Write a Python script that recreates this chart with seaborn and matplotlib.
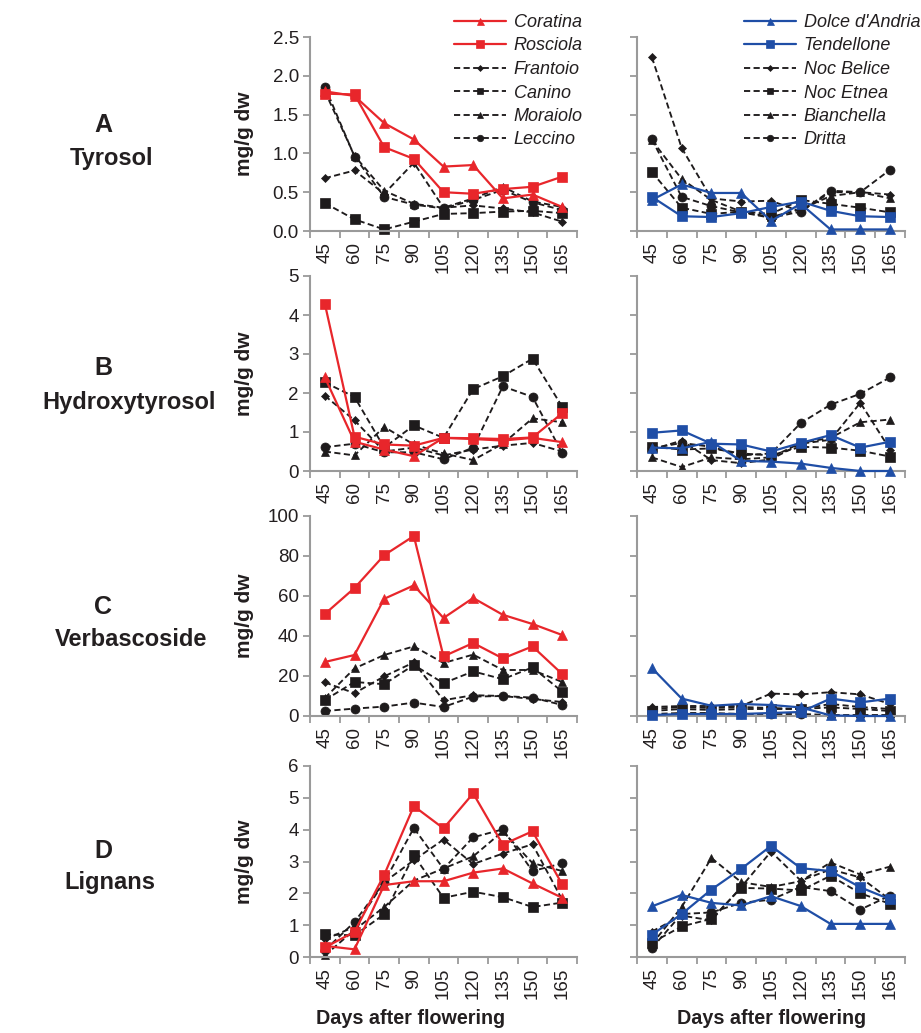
import numpy as np
import matplotlib
matplotlib.use("Agg")
import matplotlib.pyplot as plt
import seaborn as sns
from matplotlib.ticker import FixedLocator, NullFormatter, FormatStrFormatter

# ---------------- data ----------------
days = [45, 60, 75, 90, 105, 120, 135, 150, 165]
panel_letters = ["A", "B", "C", "D"]
compound_names = ["Tyrosol", "Hydroxytyrosol", "Verbascoside", "Lignans"]
y_max = [2.5, 5, 100, 6]
y_step = [0.5, 1, 20, 1]
y_fmt = ["%.1f", "%d", "%d", "%d"]

left_varieties = ["Coratina", "Rosciola", "Frantoio", "Canino", "Moraiolo", "Leccino"]
right_varieties = ["Dolce d'Andria", "Tendellone", "Noc Belice", "Noc Etnea", "Bianchella", "Dritta"]

tyrosol_left = {
    "Coratina": [1.80, 1.74, 1.39, 1.18, 0.83, 0.85, 0.42, 0.47, 0.31],
    "Rosciola": [1.77, 1.76, 1.08, 0.93, 0.50, 0.48, 0.54, 0.57, 0.70],
    "Frantoio": [0.68, 0.78, 0.48, 0.88, 0.30, 0.33, 0.29, 0.24, 0.12],
    "Canino":   [0.36, 0.15, 0.02, 0.12, 0.22, 0.23, 0.25, 0.26, 0.23],
    "Moraiolo": [1.80, 0.97, 0.52, 0.35, 0.30, 0.42, 0.57, 0.38, 0.31],
    "Leccino":  [1.86, 0.96, 0.44, 0.34, 0.29, 0.40, 0.53, 0.37, 0.27],
}
tyrosol_right = {
    "Dolce d'Andria": [0.40, 0.60, 0.49, 0.49, 0.13, 0.35, 0.02, 0.02, 0.02],
    "Tendellone":     [0.44, 0.19, 0.18, 0.23, 0.31, 0.38, 0.26, 0.19, 0.18],
    "Noc Belice":     [2.24, 1.07, 0.42, 0.38, 0.39, 0.25, 0.50, 0.50, 0.47],
    "Noc Etnea":      [0.76, 0.30, 0.22, 0.25, 0.22, 0.40, 0.35, 0.30, 0.24],
    "Bianchella":     [1.17, 0.67, 0.40, 0.25, 0.18, 0.28, 0.45, 0.50, 0.42],
    "Dritta":         [1.18, 0.44, 0.32, 0.24, 0.17, 0.25, 0.52, 0.50, 0.79],
}
hydroxytyrosol_left = {
    "Coratina": [2.40, 0.75, 0.55, 0.38, 0.85, 0.82, 0.78, 0.85, 0.74],
    "Rosciola": [4.29, 0.88, 0.68, 0.65, 0.85, 0.84, 0.82, 0.86, 1.48],
    "Frantoio": [1.93, 1.30, 0.50, 0.60, 0.40, 0.55, 0.65, 0.72, 0.50],
    "Canino":   [2.27, 1.90, 0.60, 1.17, 0.85, 2.10, 2.43, 2.88, 1.65],
    "Moraiolo": [0.50, 0.40, 1.13, 0.68, 0.45, 0.28, 0.70, 1.35, 1.25],
    "Leccino":  [0.61, 0.70, 0.48, 0.48, 0.30, 0.60, 2.17, 1.90, 0.46],
}
hydroxytyrosol_right = {
    "Dolce d'Andria": [0.60, 0.58, 0.75, 0.26, 0.24, 0.19, 0.08, 0.00, 0.00],
    "Tendellone":     [0.98, 1.04, 0.70, 0.68, 0.50, 0.72, 0.92, 0.60, 0.75],
    "Noc Belice":     [0.55, 0.78, 0.28, 0.20, 0.30, 0.70, 0.80, 1.75, 0.55],
    "Noc Etnea":      [0.62, 0.55, 0.58, 0.45, 0.40, 0.62, 0.60, 0.52, 0.37],
    "Bianchella":     [0.35, 0.10, 0.35, 0.30, 0.35, 0.72, 0.85, 1.25, 1.32],
    "Dritta":         [0.58, 0.72, 0.62, 0.40, 0.45, 1.23, 1.70, 1.98, 2.40],
}
verbascoside_left = {
    "Coratina": [27.0, 30.5, 58.6, 65.3, 49.0, 59.0, 50.6, 46.0, 40.5],
    "Rosciola": [51.0, 64.0, 80.4, 90.0, 29.8, 36.5, 28.8, 34.8, 21.0],
    "Frantoio": [16.8, 11.4, 19.8, 26.8, 7.9, 10.4, 10.0, 8.5, 7.0],
    "Canino":   [8.0, 17.0, 15.9, 25.5, 16.4, 22.3, 18.4, 24.3, 12.2],
    "Moraiolo": [9.0, 23.8, 30.5, 34.8, 26.5, 30.7, 23.0, 23.0, 17.0],
    "Leccino":  [2.5, 3.7, 4.7, 6.7, 4.5, 9.7, 10.0, 9.2, 5.5],
}
verbascoside_right = {
    "Dolce d'Andria": [24.0, 8.7, 5.1, 6.0, 5.5, 4.3, 0.3, 0.0, 0.0],
    "Tendellone":     [0.5, 1.0, 1.0, 1.0, 1.5, 2.0, 8.7, 6.8, 8.7],
    "Noc Belice":     [4.5, 5.0, 5.0, 5.0, 11.2, 10.8, 11.9, 10.8, 6.0],
    "Noc Etnea":      [2.5, 3.5, 3.0, 3.5, 3.5, 3.5, 4.3, 3.5, 2.5],
    "Bianchella":     [3.5, 4.5, 4.0, 4.5, 4.0, 3.5, 6.0, 4.5, 3.5],
    "Dritta":         [1.0, 1.5, 1.5, 1.0, 1.0, 1.0, 0.5, 0.5, 0.5],
}
lignans_left = {
    "Coratina": [0.35, 0.24, 2.26, 2.38, 2.38, 2.65, 2.78, 2.31, 1.86],
    "Rosciola": [0.30, 0.79, 2.58, 4.74, 4.04, 5.14, 3.53, 3.95, 2.28],
    "Frantoio": [0.55, 0.95, 2.35, 3.04, 3.69, 2.92, 3.25, 3.54, 1.80],
    "Canino":   [0.71, 0.68, 1.34, 3.19, 1.86, 2.05, 1.88, 1.57, 1.71],
    "Moraiolo": [0.05, 0.85, 1.57, 2.40, 2.78, 3.16, 3.95, 2.95, 2.70],
    "Leccino":  [0.21, 1.10, 2.35, 4.05, 2.77, 3.76, 4.01, 2.70, 2.94],
}
lignans_right = {
    "Dolce d'Andria": [1.59, 1.95, 1.70, 1.62, 1.91, 1.60, 1.04, 1.04, 1.04],
    "Tendellone":     [0.70, 1.35, 2.12, 2.77, 3.49, 2.79, 2.70, 2.19, 1.81],
    "Noc Belice":     [0.80, 1.30, 1.15, 2.20, 3.31, 2.40, 2.75, 2.50, 1.80],
    "Noc Etnea":      [0.45, 0.96, 1.20, 2.17, 2.15, 2.09, 2.55, 2.00, 1.67],
    "Bianchella":     [0.40, 1.57, 3.11, 2.35, 2.20, 2.38, 2.97, 2.59, 2.84],
    "Dritta":         [0.28, 1.35, 1.40, 1.70, 1.80, 2.20, 2.07, 1.49, 1.93],
}

left_data = [tyrosol_left, hydroxytyrosol_left, verbascoside_left, lignans_left]
right_data = [tyrosol_right, hydroxytyrosol_right, verbascoside_right, lignans_right]

# ---------------- styles ----------------
RED = "#e8262b"
BLUE = "#1f4ea6"
BLACK = "#1e1b1c"
TXT = "#231f20"
SPINE = "#9a9a9a"
markers6 = ["^", "s", "D", "s", "^", "o"]
msizes6 = [7, 7.2, 4.2, 6.5, 6.3, 6.5]
left_colors = [RED, RED, BLACK, BLACK, BLACK, BLACK]
right_colors = [BLUE, BLUE, BLACK, BLACK, BLACK, BLACK]
DASH = (0, (3.3, 1.8))

sns.set_style("ticks")
plt.rcParams["font.family"] = ["Liberation Sans", "DejaVu Sans"]

W, H = 921, 1033
fig = plt.figure(figsize=(W / 100, H / 100), dpi=100)

rows_px = [(37, 231), (276, 471), (516, 716), (766, 957)]
cols_px = [(310, 577), (637, 905)]


def rect(l, t, r, b):
    return [l / W, 1 - b / H, (r - l) / W, (b - t) / H]


x_pos = np.arange(len(days))
axes = []
for i in range(4):
    row_axes = []
    for j in range(2):
        l, r = cols_px[j]
        t, b = rows_px[i]
        ax = fig.add_axes(rect(l, t, r, b))
        data = left_data[i] if j == 0 else right_data[i]
        names = left_varieties if j == 0 else right_varieties
        cols = left_colors if j == 0 else right_colors
        order = [2, 3, 4, 5, 0, 1]  # draw black dashed first
        for k in order:
            name = names[k]
            solid = k < 2
            sns.lineplot(
                x=x_pos, y=data[name], ax=ax, color=cols[k],
                marker=markers6[k], markersize=msizes6[k],
                markeredgecolor=cols[k], markerfacecolor=cols[k],
                markeredgewidth=0.5,
                linestyle="-" if solid else DASH,
                linewidth=1.6 if solid else 1.35,
                label=name, clip_on=False, zorder=3 if solid else 2,
            )
        ax.set_xlim(-0.5, len(days) - 0.5)
        ax.set_ylim(0, y_max[i])
        ax.set_yticks(np.arange(0, y_max[i] + 1e-9, y_step[i]))
        ax.yaxis.set_major_formatter(FormatStrFormatter(y_fmt[i]))
        if j == 1:
            ax.set_yticklabels([])
        ax.xaxis.set_major_locator(FixedLocator(np.arange(-0.5, len(days), 1)))
        ax.xaxis.set_major_formatter(NullFormatter())
        ax.xaxis.set_minor_locator(FixedLocator(x_pos))
        ax.set_xticklabels([str(d) for d in days], minor=True, rotation=90)
        ax.tick_params(axis="x", which="minor", length=0, pad=8,
                       labelsize=13.5, labelcolor=TXT)
        ax.tick_params(axis="x", which="major", length=5, width=1.3,
                       color=SPINE, direction="out")
        ax.tick_params(axis="y", which="major", length=5, width=1.3,
                       color=SPINE, labelsize=13.5, labelcolor=TXT, pad=3,
                       direction="out")
        for s in ["top", "right"]:
            ax.spines[s].set_visible(False)
        for s in ["left", "bottom"]:
            ax.spines[s].set_color(SPINE)
            ax.spines[s].set_linewidth(1.5)
        ax.set_xlabel("")
        if j == 0:
            ax.set_ylabel("mg/g dw", fontsize=15, fontweight="bold", color=TXT)
            ax.yaxis.set_label_coords(-(310 - 254) / 267, 0.5)
        else:
            ax.set_ylabel("")
        if ax.get_legend() is not None:
            ax.get_legend().remove()
        if i == 0:
            handles, labels = ax.get_legend_handles_labels()
            hmap = dict(zip(labels, handles))
            hx = 454 if j == 0 else 744
            ax.legend([hmap[n] for n in names], names, loc="upper left",
                      bbox_to_anchor=(hx / W, 1 - 14 / H),
                      bbox_transform=fig.transFigure, frameon=False,
                      borderpad=0, borderaxespad=0, handlelength=2.9,
                      handletextpad=0.4, labelspacing=0.36,
                      markerscale=0.72,
                      prop={"style": "italic", "size": 13},
                      labelcolor=TXT)
        row_axes.append(ax)
    axes.append(row_axes)

# panel labels
letter_y = [125, 368, 607, 851]
name_y = [159, 403, 640, 882]
name_x = [111, 129, 131, 110]
for i in range(4):
    fig.text(103 / W, 1 - letter_y[i] / H, panel_letters[i], ha="center",
             va="center", fontsize=18, fontweight="bold", color=TXT)
    fig.text(name_x[i] / W, 1 - name_y[i] / H, compound_names[i], ha="center",
             va="center", fontsize=17, fontweight="bold", color=TXT)

fig.text(411 / W, 1 - 1018 / H, "Days after flowering", ha="center",
         va="center", fontsize=14.2, fontweight="bold", color=TXT)
fig.text(772 / W, 1 - 1018 / H, "Days after flowering", ha="center",
         va="center", fontsize=14.2, fontweight="bold", color=TXT)

fig.savefig("out.png", dpi=100)
